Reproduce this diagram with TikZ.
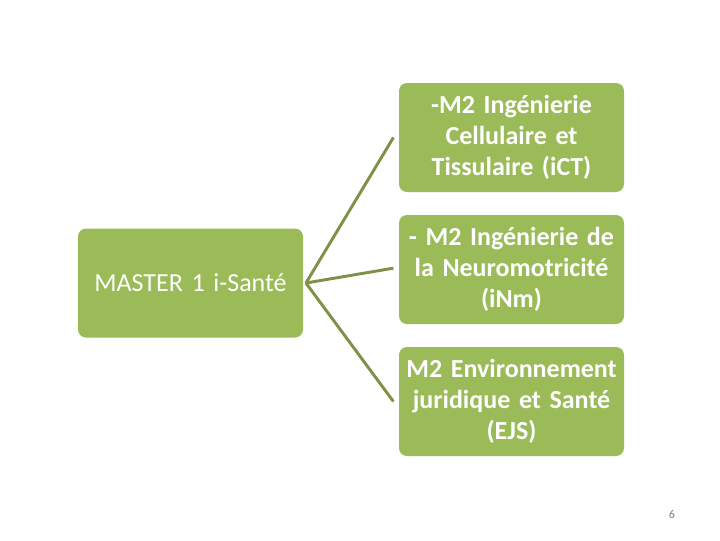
\documentclass[tikz,border=0pt]{standalone}
\usepackage{fontspec}
\setmainfont{Carlito}
\usepackage{tikz}
\usetikzlibrary{positioning}
\definecolor{olivebox}{HTML}{9BBB59}
\definecolor{oliveline}{HTML}{7E9148}
\tikzset{
  prog/.style={draw=none,fill=olivebox,rounded corners=6pt,text=white,
    minimum width=168.75pt,minimum height=81.75pt,align=center,
    text width=160pt,inner sep=0pt,font=\fontsize{19.5}{23.5}\selectfont},
  branch/.style={draw=oliveline,line width=2.2pt}
}
\begin{document}
\begin{tikzpicture}[x=0.75pt,y=-0.75pt]
\useasboundingbox (0,0) rectangle (720,540);
\node[prog] (m1) at (190.5,283) {MASTER 1 i-Santé};
\node[prog,font=\fontsize{19.5}{23.5}\selectfont\bfseries] (ict) at (511.5,137.5)
  {-M2 Ingénierie\\Cellulaire et\\Tissulaire (iCT)};
\node[prog,font=\fontsize{19.5}{23.5}\selectfont\bfseries] (inm) at (511.5,269.5)
  {- M2 Ingénierie de\\la Neuromotricité\\(iNm)};
\node[prog,font=\fontsize{19.5}{23.5}\selectfont\bfseries] (ejs) at (511.5,401.5)
  {M2 Environnement\\juridique et Santé\\(EJS)};
\coordinate (hub) at ([xshift=2pt]m1.east);
\draw[branch] (hub) -- ([xshift=-4pt]ict.west);
\draw[branch] (hub) -- ([xshift=-4pt,yshift=1pt]inm.west);
\draw[branch] (hub) -- ([xshift=-4pt]ejs.west);
\node[text=gray,font=\fontsize{9}{11}\selectfont] (pg) at (672,514) {6};
\end{tikzpicture}
\end{document}
